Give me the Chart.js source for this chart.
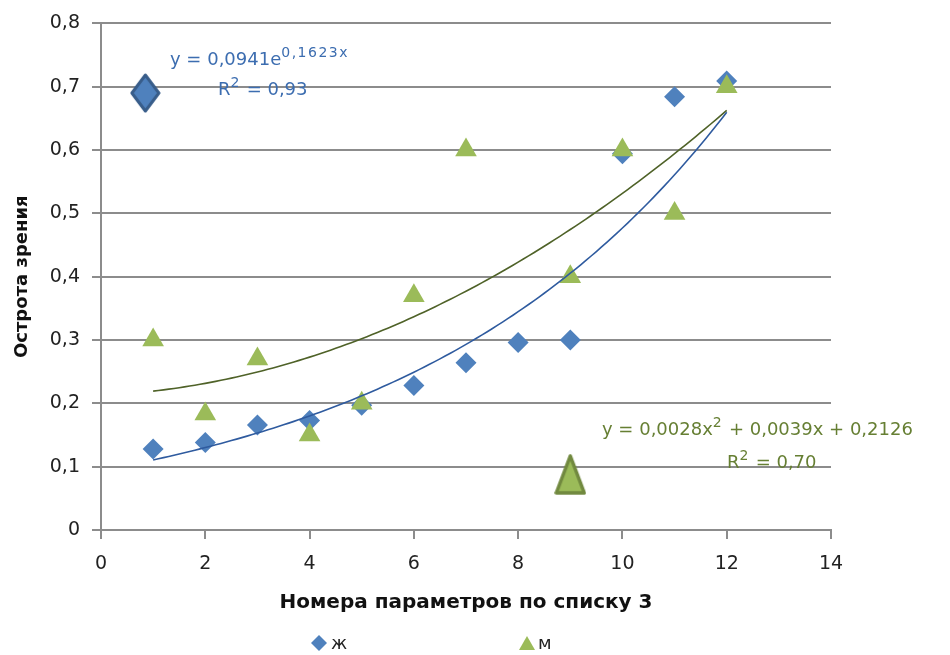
<!DOCTYPE html>
<html>
<head>
<meta charset="utf-8">
<script src="https://cdn.jsdelivr.net/npm/chart.js@4.4.1/dist/chart.umd.min.js"></script>
<style>
  html, body { margin: 0; padding: 0; background: #fff; }
  #wrap { width: 950px; height: 655px; }
</style>
</head>
<body>
<div id="wrap"><canvas id="chart" width="950" height="655"></canvas></div>
<script>
// ===== データ =====
const xTicks = [0, 2, 4, 6, 8, 10, 12, 14];
const yTicks = [0, 0.1, 0.2, 0.3, 0.4, 0.5, 0.6, 0.7, 0.8];
const yTickLabels = ["0", "0,1", "0,2", "0,3", "0,4", "0,5", "0,6", "0,7", "0,8"];

const zhX = [1, 2, 3, 4, 5, 6, 7, 8, 9, 10, 11, 12];
const zhY = [0.128, 0.138, 0.166, 0.173, 0.197, 0.228, 0.264, 0.296, 0.300, 0.594, 0.684, 0.709];

const mX = [1, 2, 3, 4, 5, 6, 7, 9, 10, 11, 12];
const mY = [0.30, 0.183, 0.27, 0.15, 0.20, 0.37, 0.60, 0.40, 0.60, 0.50, 0.70];

// маркеры возле подписей линий тренда
const zhMarker = { x: 0.85, y: 0.69 };
const mMarker = { x: 9, y: 0.087 };

// линии тренда (коэффициенты с графика)
const expA = 0.0941, expB = 0.1623;              // ж: y = a·e^(bx)
const polyA = 0.0028, polyB = 0.0039, polyC = 0.2126; // м: y = ax² + bx + c
const trendFrom = 1, trendTo = 12;

const BLUE = "#4f81bd";
const GREEN = "#9bbb59";
const GRID = "#8c8c8c";
const FONT = "'DejaVu Sans', sans-serif";

// ===== 補助 =====
const pts = (xs, ys) => xs.map((x, i) => ({ x, y: ys[i] }));

function trend(fn) {
  const out = [];
  for (let i = 0; i <= 110; i++) {
    const x = trendFrom + (trendTo - trendFrom) * i / 110;
    out.push({ x, y: fn(x) });
  }
  return out;
}

function bigDiamond() {
  const c = document.createElement("canvas");
  c.width = 31; c.height = 40;
  const g = c.getContext("2d");
  g.beginPath();
  g.moveTo(15.5, 2); g.lineTo(29, 20); g.lineTo(15.5, 38); g.lineTo(2, 20);
  g.closePath();
  g.fillStyle = BLUE; g.fill();
  g.lineWidth = 3; g.strokeStyle = "#385d8a"; g.lineJoin = "round"; g.stroke();
  return c;
}

function bigTriangle() {
  const c = document.createElement("canvas");
  c.width = 32; c.height = 42;
  const g = c.getContext("2d");
  g.beginPath();
  g.moveTo(16, 2); g.lineTo(30, 39); g.lineTo(2, 39);
  g.closePath();
  g.fillStyle = GREEN; g.fill();
  g.lineWidth = 3.5; g.strokeStyle = "#71893f"; g.lineJoin = "round"; g.stroke();
  return c;
}

// 式ラベル（上付き文字あり）
function drawRich(ctx, x, y, parts, color) {
  ctx.save();
  ctx.fillStyle = color;
  ctx.textBaseline = "alphabetic";
  parts.forEach(p => {
    ctx.font = (p.sup ? "14px " : "18px ") + FONT;
    ctx.letterSpacing = p.sup ? "1.5px" : "0px";
    ctx.fillText(p.t, x, p.sup ? y - 8 : y);
    x += ctx.measureText(p.t).width;
  });
  ctx.restore();
}

const extras = {
  id: "extras",
  afterDatasetsDraw(chart) {
    const ctx = chart.ctx;
    drawRich(ctx, 170, 65, [{ t: "y = 0,0941e" }, { t: "0,1623x", sup: true }], "#3c6db0");
    drawRich(ctx, 218, 95, [{ t: "R" }, { t: "2", sup: true }, { t: " = 0,93" }], "#3c6db0");
    drawRich(ctx, 602, 435, [{ t: "y = 0,0028x" }, { t: "2", sup: true }, { t: " + 0,0039x + 0,2126" }], "#667f33");
    drawRich(ctx, 727, 468, [{ t: "R" }, { t: "2", sup: true }, { t: " = 0,70" }], "#667f33");

    // 凡例
    ctx.save();
    ctx.fillStyle = BLUE;
    ctx.beginPath();
    ctx.moveTo(319, 635); ctx.lineTo(327, 643); ctx.lineTo(319, 651); ctx.lineTo(311, 643);
    ctx.closePath(); ctx.fill();
    ctx.fillStyle = GREEN;
    ctx.beginPath();
    ctx.moveTo(527, 636); ctx.lineTo(535, 650); ctx.lineTo(519, 650);
    ctx.closePath(); ctx.fill();
    ctx.fillStyle = "#222";
    ctx.font = "18px " + FONT;
    ctx.fillText("ж", 331, 649);
    ctx.fillText("м", 538, 649);
    ctx.restore();
  }
};

new Chart(document.getElementById("chart"), {
  type: "scatter",
  data: {
    datasets: [
      {
        label: "ж тренд",
        data: trend(x => expA * Math.exp(expB * x)),
        showLine: true, pointRadius: 0,
        borderColor: "#2f5b9f", borderWidth: 1.6, order: 0
      },
      {
        label: "м тренд",
        data: trend(x => polyA * x * x + polyB * x + polyC),
        showLine: true, pointRadius: 0,
        borderColor: "#4f6228", borderWidth: 1.6, order: 0
      },
      {
        label: "ж",
        data: pts(zhX, zhY),
        pointStyle: "rectRot", pointRadius: 10.5,
        backgroundColor: BLUE, borderColor: BLUE, borderWidth: 0, order: 4
      },
      {
        label: "м",
        data: pts(mX, mY),
        pointStyle: "triangle", pointRadius: 12.5,
        backgroundColor: GREEN, borderColor: GREEN, borderWidth: 0, order: 3
      },
      {
        label: "ж маркер",
        data: [zhMarker],
        pointStyle: bigDiamond(), order: 2
      },
      {
        label: "м маркер",
        data: [mMarker],
        pointStyle: bigTriangle(), order: 2
      }
    ]
  },
  options: {
    responsive: false,
    animation: false,
    layout: { padding: { left: 0, top: 18, right: 119, bottom: 40 } },
    plugins: { legend: { display: false }, tooltip: { enabled: false } },
    scales: {
      x: {
        type: "linear", min: 0, max: 14,
        afterBuildTicks: s => { s.ticks = xTicks.map(v => ({ value: v })); },
        afterFit: s => { s.height = 85; },
        ticks: { color: "#222", font: { family: FONT, size: 19 }, padding: 14, maxRotation: 0 },
        grid: { drawOnChartArea: false, drawTicks: true, tickLength: 9, color: GRID, lineWidth: 2 },
        border: { color: GRID, width: 2 },
        title: {
          display: true, text: "Номера параметров по списку 3",
          color: "#111", font: { family: FONT, size: 20, weight: "bold" }, padding: 0
        }
      },
      y: {
        type: "linear", min: 0, max: 0.8,
        afterBuildTicks: s => { s.ticks = yTicks.map(v => ({ value: v })); },
        afterFit: s => { s.width = 101; },
        ticks: {
          color: "#222", font: { family: FONT, size: 19 }, padding: 12,
          callback: (v, i) => yTickLabels[i]
        },
        grid: { color: GRID, lineWidth: 2, tickLength: 9 },
        border: { color: GRID, width: 2 },
        title: {
          display: true, text: "Острота зрения",
          color: "#111", font: { family: FONT, size: 18, weight: "bold" }, padding: { top: 12, bottom: 0 }
        }
      }
    }
  },
  plugins: [extras]
});
</script>
</body>
</html>
